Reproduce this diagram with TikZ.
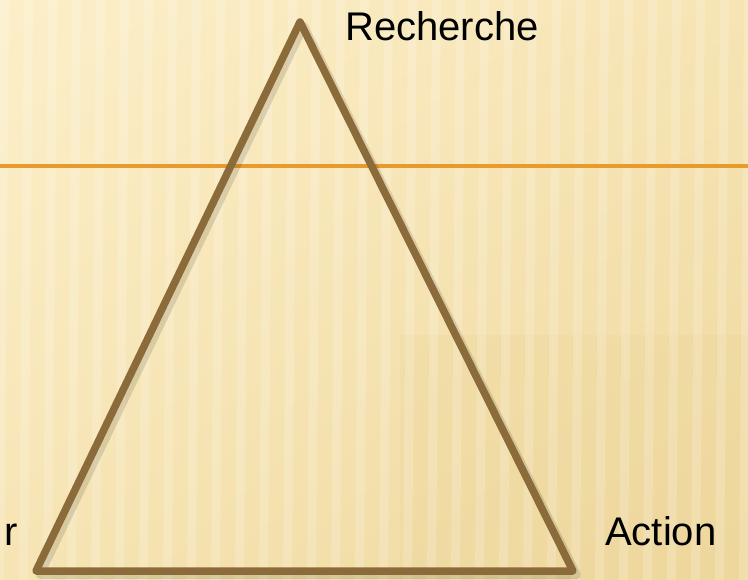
\documentclass[tikz,border=0pt]{standalone}
\usepackage{fontspec}
\setmainfont{Liberation Sans}
\usepackage{tikz}
\usetikzlibrary{positioning,calc,shadings}
\usepackage{xcolor}
\definecolor{paper}{HTML}{FCEFC9}
\definecolor{paperdark}{HTML}{EED79C}
\definecolor{paperside}{HTML}{F6E4B4}
\definecolor{bronze}{HTML}{8C6B3B}
\definecolor{amber}{HTML}{E99A2C}

\begin{document}
\begin{tikzpicture}[x=1pt, y=-1pt]
  % background
  \useasboundingbox (0,0) rectangle (748,580);
  \shade[upper left=paper, upper right=paperside, lower left=paperside, lower right=paperdark]
    (0,0) rectangle (748,580);
  \fill[paperdark, opacity=0.35] (400,335) rectangle (748,580);
  \foreach \x in {0,24,...,744}
    \fill[white, opacity=0.18] (\x,0) -- (\x+9,0) -- (\x+4,580) -- (\x-5,580) -- cycle;
  % separator
  \draw[amber, line width=3.2pt] (0,166) -- (748,166);
  % triangle
  \coordinate (top) at (300,22);
  \coordinate (left) at (36,571);
  \coordinate (right) at (573,571);
  \draw[black, opacity=0.12, line width=8pt, line join=round] ($(top)+(4,4)$) -- ($(left)+(4,4)$) -- ($(right)+(4,4)$) -- cycle;
  \draw[bronze, line width=7.5pt, line join=round] (top) -- (left) -- (right) -- cycle;
  % labels
  \node[font=\fontsize{40}{48}\selectfont, anchor=base west, inner sep=0pt] (research) at (345,41) {Recherche};
  \node[font=\fontsize{40}{48}\selectfont, anchor=base west, inner sep=0pt] (action) at (605,545) {Action};
  \node[font=\fontsize{40}{48}\selectfont, anchor=base east, inner sep=0pt] (third) at (18,545) {r};
\end{tikzpicture}
\end{document}
